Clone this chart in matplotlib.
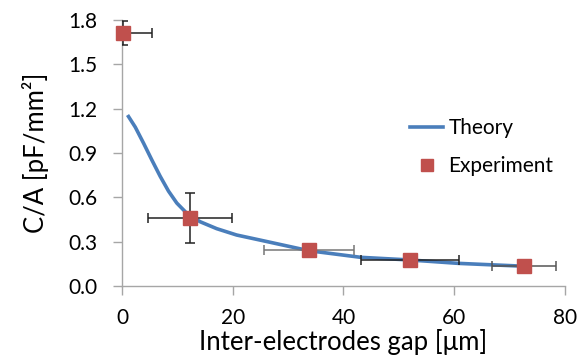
import matplotlib
matplotlib.use("Agg")
import matplotlib.pyplot as plt
from matplotlib.lines import Line2D

plt.rcParams['font.family'] = ['Lato', 'DejaVu Sans']

# Theory curve
theory_x = [1.0, 2.4, 3.9, 5.4, 6.9, 8.4, 9.9, 11.7, 14.1, 17.1, 20.7, 24.9, 33.7, 43.1, 52.0, 60.8, 73.0]
theory_y = [1.157, 1.075, 0.966, 0.852, 0.742, 0.642, 0.561, 0.492, 0.435, 0.388, 0.345, 0.311, 0.239, 0.194, 0.176, 0.153, 0.133]

# Experiment points
exp_x = [0.1, 12.3, 33.8, 52.0, 72.6]
exp_y = [1.71, 0.46, 0.243, 0.176, 0.135]
exp_xerr = [5.4, 7.6, 8.1, 8.9, 5.8]
exp_yerr = [0.08, 0.17, 0.0, 0.0, 0.0]
err_colors = ['#222222', '#222222', '#777777', '#222222', '#555555']

x_ticks = [0, 20, 40, 60, 80]
y_ticks = [0.0, 0.3, 0.6, 0.9, 1.2, 1.5, 1.8]

fig = plt.figure(figsize=(5.79, 3.60), dpi=100)
ax = fig.add_axes([0.2107, 0.2056, 0.7651, 0.7388])

ax.plot(theory_x, theory_y, color='#4a7ebb', lw=2.6, label='Theory', zorder=2,
        solid_capstyle='butt')

for xi, yi, xe, ye, c in zip(exp_x, exp_y, exp_xerr, exp_yerr, err_colors):
    ax.errorbar(xi, yi, xerr=xe, yerr=ye if ye > 0 else None, fmt='none',
                ecolor=c, elinewidth=1.1, capsize=3.5, capthick=1.1, zorder=3)
ax.plot(exp_x, exp_y, ls='none', marker='s', ms=10.5, color='#c0504d',
        markeredgecolor='#c0504d', label='Experiment', zorder=4, clip_on=False)

ax.set_xlim(0, 80)
ax.set_ylim(0, 1.8)
ax.set_xticks(x_ticks)
ax.set_yticks(y_ticks)
ax.set_xticklabels([str(t) for t in x_ticks])
ax.set_yticklabels([f"{t:.1f}" for t in y_ticks])

for s in ['top', 'right']:
    ax.spines[s].set_visible(False)
for s in ['left', 'bottom']:
    ax.spines[s].set_color('#a6a6a6')
    ax.spines[s].set_linewidth(1.0)
ax.tick_params(axis='both', direction='out', length=6.5, width=1.0, color='#a6a6a6',
               labelsize=15, labelcolor='black')
ax.tick_params(axis='x', pad=9)
ax.tick_params(axis='y', pad=11)

ax.set_xlabel('Inter-electrodes gap [μm]', fontsize=18.5, labelpad=1)
ax.set_ylabel('C/A [pF/mm²]', fontsize=18.5, labelpad=14)

handles = [Line2D([], [], color='#4a7ebb', lw=2.6),
           Line2D([], [], ls='none', marker='s', ms=8.5, color='#c0504d')]
fig.legend(handles, ['Theory', 'Experiment'], loc='center left',
           bbox_to_anchor=(410 / 579, 1 - 147 / 360), frameon=False, fontsize=15,
           handlelength=1.6, handletextpad=0.25, labelspacing=0.85,
           borderpad=0, borderaxespad=0)

fig.savefig('out.png', dpi=100)
